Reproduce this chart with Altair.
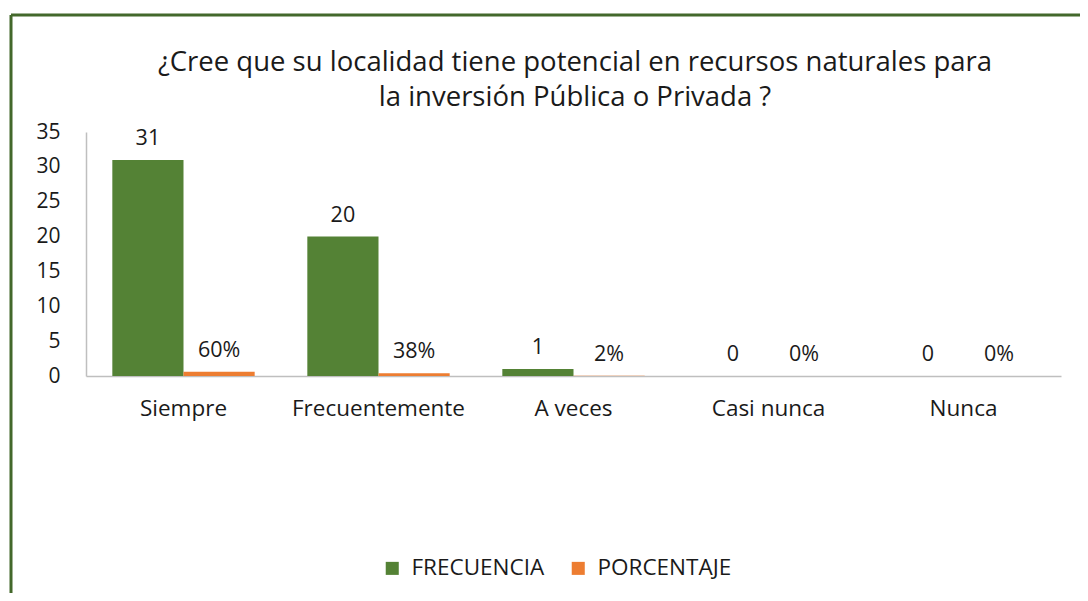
import altair as alt
import pandas as pd

categories = ["Siempre", "Frecuentemente", "A veces", "Casi nunca", "Nunca"]
frecuencia = [31, 20, 1, 0, 0]
porcentaje = [0.60, 0.38, 0.02, 0.0, 0.0]
series = ["FRECUENCIA", "PORCENTAJE"]
colors = ["#548235", "#ED7D31"]
title_text = "¿Cree que su localidad tiene potencial en recursos naturales para\nla inversión Pública o Privada ?"

rows = []
for c, f, p in zip(categories, frecuencia, porcentaje):
    rows.append({"cat": c, "serie": series[0], "valor": f, "etiqueta": f"{f}"})
    rows.append({"cat": c, "serie": series[1], "valor": p, "etiqueta": f"{round(p*100)}%"})
df = pd.DataFrame(rows)

FONT = "Open Sans"
TXT = "#1a1a1a"

x = alt.X("cat:N", sort=categories, title=None,
          scale=alt.Scale(paddingInner=0.27, paddingOuter=0.135),
          axis=alt.Axis(labelAngle=0, labelFontSize=22.5, labelFont=FONT, labelColor=TXT,
                        labelPadding=21, ticks=False, domainColor="#BFBFBF", domainWidth=1.5))
y = alt.Y("valor:Q", title=None,
          scale=alt.Scale(domain=[0, 35]),
          axis=alt.Axis(values=[0, 5, 10, 15, 20, 25, 30, 35], grid=False, ticks=False,
                        labelFontSize=21, labelFont=FONT, labelColor=TXT, labelPadding=26,
                        domainColor="#BFBFBF", domainWidth=1.5))
xo = alt.XOffset("serie:N", sort=series)
color = alt.Color("serie:N", sort=series, title=None,
                  scale=alt.Scale(domain=series, range=colors),
                  legend=alt.Legend(orient="none", legendX=295, legendY=425, direction="horizontal",
                                    symbolType="square", symbolSize=170, symbolStrokeWidth=0,
                                    labelFontSize=22.5, labelFont=FONT, labelColor=TXT,
                                    columnPadding=22, labelOffset=8))

base = alt.Chart(df)
bars = base.mark_bar().encode(x=x, y=y, xOffset=xo, color=color)
labels = base.mark_text(baseline="bottom", dy=-10, fontSize=21.5, font=FONT, color=TXT).encode(
    x=x, y=y, xOffset=xo, text="etiqueta:N")

tdf = pd.DataFrame({"t": [title_text]})
title = alt.Chart(tdf).mark_text(fontSize=27.5, font=FONT, color=TXT, lineBreak="\n",
                                 lineHeight=35, baseline="middle", align="center").encode(
    x=alt.value(489), y=alt.value(-69), text="t:N")

bdf = pd.DataFrame({"k": [0]})
border_top = alt.Chart(bdf).mark_rule(color="#43682B", strokeWidth=3).encode(
    x=alt.value(-75), x2=alt.value(1100), y=alt.value(-117))
border_left = alt.Chart(bdf).mark_rule(color="#43682B", strokeWidth=3).encode(
    x=alt.value(-75), y=alt.value(-117), y2=alt.value(480))

chart = alt.layer(bars, labels, title, border_top, border_left).properties(
    width=975, height=244,
    autosize=alt.AutoSizeParams(type="none"),
    padding={"left": 78, "top": 124, "right": 19, "bottom": 217},
).configure(background="white").configure_view(strokeWidth=0, stroke="transparent")

chart.save("out.html", embed_options={"renderer": "svg", "actions": False})
